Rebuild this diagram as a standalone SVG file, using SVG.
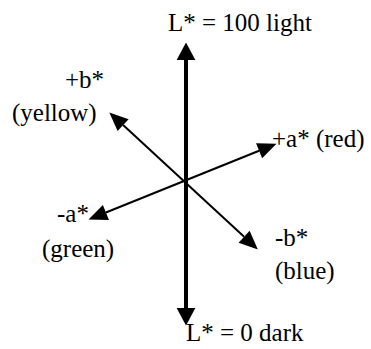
<svg xmlns="http://www.w3.org/2000/svg" width="371" height="349" viewBox="0 0 371 349">
<defs>
<marker id="big" markerUnits="userSpaceOnUse" markerWidth="20" markerHeight="20" viewBox="0 -8 15 16" refX="0" refY="0" orient="auto-start-reverse" overflow="visible">
<path d="M0,-7.5 L14,0 L0,7.5 z" fill="#000"/>
</marker>
<marker id="sm" markerUnits="userSpaceOnUse" markerWidth="20" markerHeight="20" viewBox="0 -7 16 14" refX="0" refY="0" orient="auto-start-reverse" overflow="visible">
<path d="M0,-6.5 L15,0 L0,6.5 z" fill="#000"/>
</marker>
</defs>
<g id="connectors" stroke="#000" fill="none">
<line x1="186" y1="60" x2="186" y2="308" stroke-width="4" marker-start="url(#big)" marker-end="url(#big)"/>
<line x1="123.1" y1="125.1" x2="244.1" y2="236.7" stroke-width="2" marker-start="url(#sm)" marker-end="url(#sm)"/>
<line x1="105.9" y1="212.5" x2="259.1" y2="150.7" stroke-width="2" marker-start="url(#sm)" marker-end="url(#sm)"/>
</g>
<g id="L-light"><text x="168" y="31" font-family="'Liberation Serif'" font-size="25">L* = 100 light</text></g>
<g id="b-plus"><text x="65" y="88" font-family="'Liberation Serif'" font-size="25">+b*</text><text x="12" y="121" font-family="'Liberation Serif'" font-size="25">(yellow)</text></g>
<g id="a-plus"><text x="272" y="147" font-family="'Liberation Serif'" font-size="25">+a* (red)</text></g>
<g id="a-minus"><text x="57" y="222" font-family="'Liberation Serif'" font-size="25">-a*</text><text x="42" y="257" font-family="'Liberation Serif'" font-size="25">(green)</text></g>
<g id="b-minus"><text x="275" y="246" font-family="'Liberation Serif'" font-size="25">-b*</text><text x="275" y="279" font-family="'Liberation Serif'" font-size="25">(blue)</text></g>
<g id="L-dark"><text x="186" y="341" font-family="'Liberation Serif'" font-size="25">L* = 0 dark</text></g>
</svg>
